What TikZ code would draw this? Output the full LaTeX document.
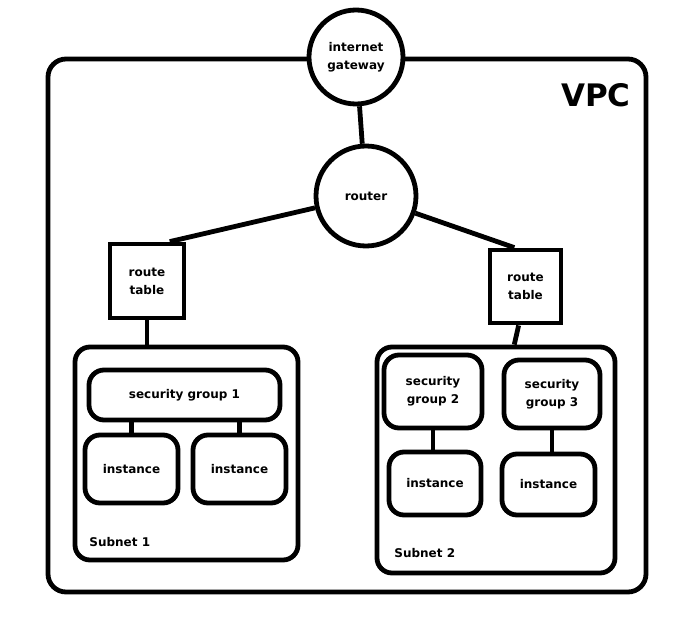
\documentclass[tikz,border=0pt]{standalone}
\usepackage{fontspec}
\setmainfont{DejaVu Sans}
\usepackage{tikz}

\begin{document}
\begin{tikzpicture}[x=1pt,y=-1pt,line width=4.8pt,
    every node/.style={font=\fontsize{12}{18}\selectfont\bfseries, align=center, inner sep=0pt},
    hub/.style={draw, circle, fill=white},
    tablebox/.style={draw, rectangle},
    groupbox/.style={draw, rectangle, rounded corners=15pt}]
    \useasboundingbox (0,0) rectangle (673,640);
    \node[groupbox, rounded corners=18pt, minimum width=598, minimum height=533] (vpc) at (347,325.5) {};
    \node[font=\fontsize{31}{31}\selectfont\bfseries] (vpclabel) at (596,95) {VPC};
    \node[hub, minimum size=94] (igw) at (356,57) {internet\\gateway};
    \node[hub, minimum size=100] (router) at (366,196) {router};
    \node[tablebox, minimum width=74, minimum height=74] (rt1) at (147,281) {route\\table};
    \node[tablebox, minimum width=71, minimum height=73] (rt2) at (525.5,286.5) {route\\table};
    \node[groupbox, minimum width=223, minimum height=213] (sn1) at (186.5,453.5) {};
    \node[groupbox, minimum width=238, minimum height=226] (sn2) at (496,460) {};
    \node[anchor=west] (sn1label) at (87,542) {Subnet 1};
    \node[anchor=west] (sn2label) at (392,553) {Subnet 2};
    \node[groupbox, minimum width=191, minimum height=50] (sg1) at (184.5,395) {security group 1};
    \node[groupbox, minimum width=98, minimum height=73] (sg2) at (433,391.5) {security\\group 2};
    \node[groupbox, minimum width=96, minimum height=68] (sg3) at (552,394) {security\\group 3};
    \node[groupbox, minimum width=93, minimum height=68] (i1a) at (131.5,469) {instance};
    \node[groupbox, minimum width=93, minimum height=68] (i1b) at (239.5,469) {instance};
    \node[groupbox, minimum width=92, minimum height=63] (i2a) at (435,483.5) {instance};
    \node[groupbox, minimum width=93, minimum height=61] (i2b) at (548.5,484.5) {instance};
    \draw (igw) -- (router);
    \draw (router) -- (rt1.60);
    \draw (router) -- (rt2.106);
    \draw (rt1) -- (rt1 |- sn1.north);
    \draw (rt2.-100) -- (sn2.81);
    \draw (i1a) -- (i1a |- sg1.south);
    \draw (i1b) -- (i1b |- sg1.south);
    \draw (sg2) -- (sg2 |- i2a.north);
    \draw (sg3) -- (sg3 |- i2b.north);
\end{tikzpicture}
\end{document}
